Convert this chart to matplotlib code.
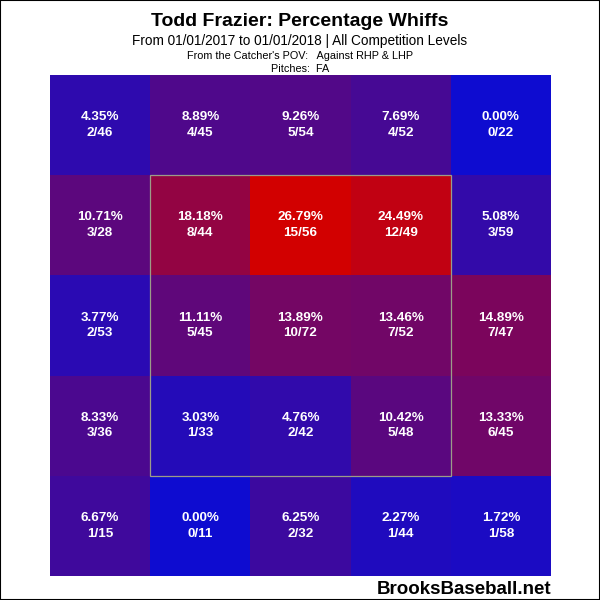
import numpy as np
import matplotlib.pyplot as plt
from matplotlib.patches import Rectangle

plt.rcParams['font.family'] = ['Liberation Sans', 'DejaVu Sans']

# whiffs / pitches, rows from top to bottom (catcher's POV)
whiffs = [[2, 4, 5, 4, 0],
          [3, 8, 15, 12, 3],
          [2, 5, 10, 7, 7],
          [3, 1, 2, 5, 6],
          [1, 0, 2, 1, 1]]
pitches = [[46, 45, 54, 52, 22],
           [28, 44, 56, 49, 59],
           [53, 45, 72, 52, 47],
           [36, 33, 42, 48, 45],
           [15, 11, 32, 44, 58]]

w = np.array(whiffs)
n = np.array(pitches)
pct = 100.0 * w / n
frac = pct / pct.max()

lo = np.array([14, 12, 208]) / 255.0
hi = np.array([210, 0, 0]) / 255.0

fig = plt.figure(figsize=(6, 6), dpi=100)
fig.patch.set_facecolor('white')
ax = fig.add_axes([50/600, 24/600, 501/600, 501/600])

for i in range(5):
    for j in range(5):
        c = lo + (hi - lo) * frac[i, j]
        ax.add_patch(Rectangle((j, 4 - i), 1, 1, facecolor=c, edgecolor='none'))
        ax.text(j + 0.5, 4 - i + 0.5, "%.2f%%\n%d/%d" % (pct[i, j], w[i, j], n[i, j]),
                color='white', fontsize=9.7, fontweight='bold',
                ha='center', va='center', linespacing=1.4)

# strike zone
ax.add_patch(Rectangle((1, 1), 3, 3, fill=False, edgecolor='#9c9c88', lw=0.9))

ax.set_xlim(0, 5)
ax.set_ylim(0, 5)
ax.axis('off')

fig.text(0.5, 1 - 22/600, "Todd Frazier: Percentage Whiffs", ha='center', va='center',
         fontsize=14, fontweight='bold')
fig.text(0.5, 1 - 41/600, "From 01/01/2017 to 01/01/2018 | All Competition Levels",
         ha='center', va='center', fontsize=9.8)
fig.text(0.5, 1 - 56/600, "From the Catcher's POV:   Against RHP & LHP",
         ha='center', va='center', fontsize=7.8)
fig.text(0.5, 1 - 69/600, "Pitches:  FA", ha='center', va='center', fontsize=7.8)
fig.text(551/600, 1 - 589/600, "BrooksBaseball.net", ha='right', va='center',
         fontsize=13.5, fontweight='bold')

# outer border
fig.add_artist(Rectangle((0, 0), 1, 1, transform=fig.transFigure, fill=False,
                         edgecolor='black', lw=1.5))

fig.savefig('out.png', dpi=100)
